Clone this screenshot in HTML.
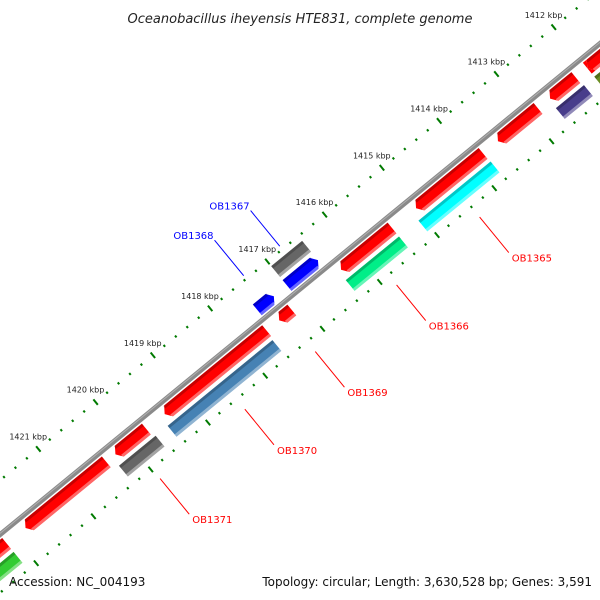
<!DOCTYPE html>
<html><head><meta charset="utf-8"><style>
html,body{margin:0;padding:0;background:#fff;width:600px;height:600px;overflow:hidden;}
svg{display:block;overflow:hidden;font-family:"DejaVu Sans","Liberation Sans",sans-serif;}
</style></head><body>
<svg id="map" width="600" height="600" viewBox="0 0 600 600" xmlns="http://www.w3.org/2000/svg">
<rect width="600" height="600" fill="#fff"/>
<g id="rot" transform="translate(294,294) rotate(-39.3)">
  <line x1="-700" y1="0" x2="700" y2="0" stroke="#8a8a8a" stroke-width="5"/>
  <line x1="-700" y1="-1" x2="700" y2="-1" stroke="#b0b0b0" stroke-width="1"/>
  <g id="ticks"></g>
  <g id="feats"></g>
</g>
<g id="labels"></g>
<g id="glabels"></g>
<text x="300" y="23" text-anchor="middle" font-size="13" font-style="italic" fill="#222">Oceanobacillus iheyensis HTE831, complete genome</text>
<text x="9" y="586" font-size="12" fill="#111">Accession: NC_004193</text>
<text x="592" y="586" text-anchor="end" font-size="12" fill="#111">Topology: circular; Length: 3,630,528 bp; Genes: 3,591</text>
</svg>
<script>
const tickStartKbp = 1411;
const tickEndKbp = 1423.4;
const tickLabels = [1412,1413,1414,1415,1416,1417,1418,1419,1420,1421];
const featStart = [1411.5, 1412.0, 1412.2, 1412.86, 1413.82, 1415.41, 1416.46, 1417.16, 1417.6, 1419.7, 1420.4, 1422.14, 1411.5, 1412.18, 1413.81, 1415.41, 1416.46, 1417.23, 1417.62, 1419.66, 1422.14];
const featEnd   = [1412.0, 1412.0, 1412.65, 1413.56, 1414.99, 1416.3, 1417.0, 1417.38, 1419.38, 1420.24, 1421.81, 1423.0, 1412.0, 1412.67, 1415.07, 1416.34, 1417.0, 1417.52, 1419.45, 1420.3, 1423.0];
const featTrack = ['rev','rev','rev','rev','rev','rev','fwdcog','rev','rev','rev','rev','rev','revcog','revcog','revcog','revcog','fwd','fwd','revcog','revcog','revcog'];
const featColor = ['#ff0000','#ff0000','#ff0000','#ff0000','#ff0000','#ff0000','#666666','#ff0000','#ff0000','#ff0000','#ff0000','#ff0000','#6b8e23','#483d8b','#00ffff','#00ee88','#0000ff','#0000ff','#4682b4','#666666','#33cc33'];
const geneLabels = ['OB1365','OB1366','OB1367','OB1368','OB1369','OB1370','OB1371'];
const geneLabelKbp = [1414.4, 1415.85, 1416.74, 1417.37, 1417.27, 1418.5, 1419.98];
const geneLabelStrand = ['rev','rev','fwd','fwd','rev','rev','rev'];

const NS = 'http://www.w3.org/2000/svg';
const KPX = 74, ANG = -39.3*Math.PI/180, OX = 294, OY = 294;
function uOf(k){ return (1417 - k) * KPX; }
function toImg(u, v){ return [OX + u*Math.cos(ANG) - v*Math.sin(ANG), OY + u*Math.sin(ANG) + v*Math.cos(ANG)]; }
const trackV = {fwd:-11, fwdcog:-29, rev:11, revcog:29};

const ticks = document.getElementById('ticks');
for (let i = 0; i <= Math.round((tickEndKbp - tickStartKbp)/0.2); i++) {
  const k = tickStartKbp + i*0.2;
  const major = Math.abs(k - Math.round(k)) < 1e-6;
  [-42, 45].forEach(function(vc){
    const l = document.createElementNS(NS, 'line');
    const u = uOf(k), h = major ? 3.5 : 1.2;
    l.setAttribute('x1', u); l.setAttribute('x2', u);
    l.setAttribute('y1', vc - h); l.setAttribute('y2', vc + h);
    l.setAttribute('stroke', '#007a00'); l.setAttribute('stroke-width', 2);
    
    
    ticks.appendChild(l);
  });
}
const labels = document.getElementById('labels');
tickLabels.forEach(function(k){
  const p = toImg(uOf(k), -58);
  const t = document.createElementNS(NS, 'text');
  t.setAttribute('x', p[0]); t.setAttribute('y', p[1] + 3);
  t.setAttribute('text-anchor', 'middle'); t.setAttribute('font-size', '8');
  t.setAttribute('fill', '#222');
  t.textContent = k + ' kbp';
  
  
  labels.appendChild(t);
});

const feats = document.getElementById('feats');
for (let i = 0; i < featStart.length; i++) {
  const tr = featTrack[i], vc = trackV[tr], h = 7;
  const a = uOf(featEnd[i]), b = uOf(featStart[i]);
  let d;
  if (tr === 'rev') d = `M${a},${vc} L${a+5},${vc-h} L${b},${vc-h} L${b},${vc+h} L${a+5},${vc+h} Z`;
  else if (tr === 'fwd') d = `M${b},${vc} L${b-5},${vc-h} L${a},${vc-h} L${a},${vc+h} L${b-5},${vc+h} Z`;
  else d = `M${a},${vc-h} L${b},${vc-h} L${b},${vc+h} L${a},${vc+h} Z`;
  const g = document.createElementNS(NS, 'g');
  
  
  const p = document.createElementNS(NS, 'path');
  p.setAttribute('d', d); p.setAttribute('fill', featColor[i]);
  
  
  g.appendChild(p);
  const x0 = tr === 'rev' ? a + 4 : a, x1 = tr === 'fwd' ? b - 4 : b;
  const top = document.createElementNS(NS, 'rect');
  top.setAttribute('x', x0); top.setAttribute('y', vc - h); top.setAttribute('width', Math.max(0, x1 - x0)); top.setAttribute('height', 3);
  top.setAttribute('fill', 'rgba(0,0,0,0.22)');
  
  
  g.appendChild(top);
  const bot = document.createElementNS(NS, 'rect');
  bot.setAttribute('x', x0); bot.setAttribute('y', vc + h - 3); bot.setAttribute('width', Math.max(0, x1 - x0)); bot.setAttribute('height', 3);
  bot.setAttribute('fill', 'rgba(255,255,255,0.4)');
  
  
  g.appendChild(bot);
  feats.appendChild(g);
}

const gl = document.getElementById('glabels');
for (let i = 0; i < geneLabels.length; i++) {
  const u = uOf(geneLabelKbp[i]);
  const fwd = geneLabelStrand[i] === 'fwd';
  const s = toImg(u, fwd ? -46 : 58), e = toImg(u, fwd ? -92 : 104);
  const col = fwd ? '#0000ff' : '#ff0000';
  const l = document.createElementNS(NS, 'line');
  l.setAttribute('x1', s[0]); l.setAttribute('y1', s[1]); l.setAttribute('x2', e[0]); l.setAttribute('y2', e[1]);
  l.setAttribute('stroke', col); l.setAttribute('stroke-width', '1');
  
  
  gl.appendChild(l);
  const t = document.createElementNS(NS, 'text');
  if (fwd) { t.setAttribute('x', e[0] - 1); t.setAttribute('y', e[1] - 1); t.setAttribute('text-anchor', 'end'); }
  else { t.setAttribute('x', e[0] + 3); t.setAttribute('y', e[1] + 9); }
  t.setAttribute('font-size', '10'); t.setAttribute('fill', col);
  t.textContent = geneLabels[i];
  
  
  gl.appendChild(t);
}
</script>
</body></html>
